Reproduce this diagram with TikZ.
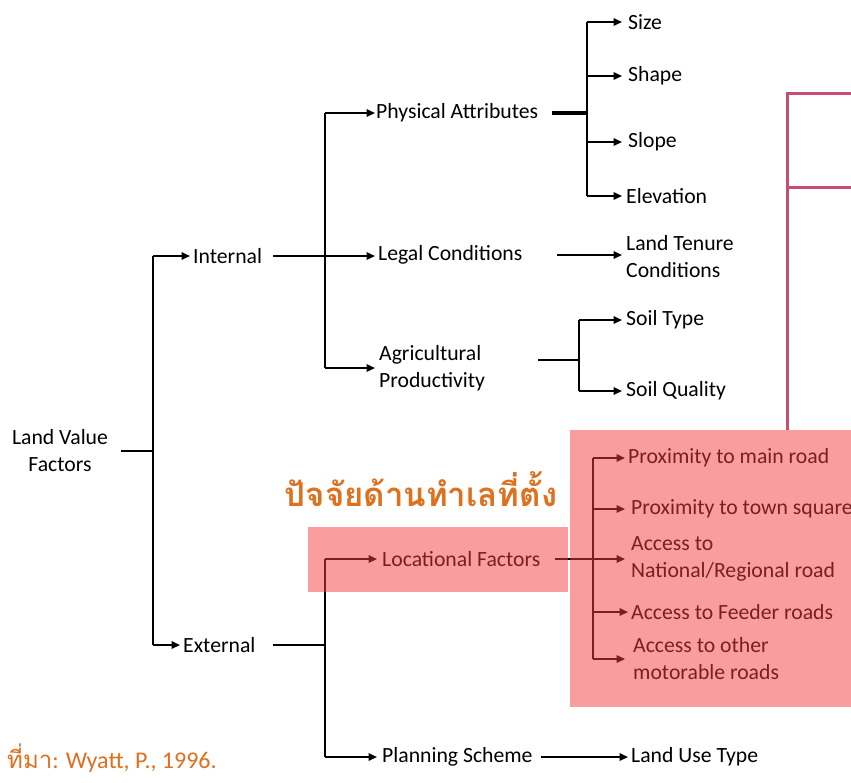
\documentclass[tikz,border=0pt]{standalone}
\usepackage{fontspec}
\setmainfont{Carlito}
\newfontfamily\thaifont[Script=Thai]{Loma}
\usetikzlibrary{arrows.meta}
\definecolor{boxred}{RGB}{244,60,62}
\definecolor{magline}{RGB}{198,78,118}
\definecolor{thaiorange}{RGB}{222,112,30}
\tikzset{
  lbl/.style={inner sep=0pt, anchor=west, font=\fontsize{21.7}{27}\selectfont, align=left},
  ln/.style={line width=2pt},
  arr/.style={line width=2pt, -{Triangle[length=8.5pt,width=7.5pt]}},
  thk/.style={line width=3.8pt},
  mag/.style={draw=magline, line width=3pt},
  overlay box/.style={fill=boxred, fill opacity=0.5, draw=none}
}
\begin{document}
\begin{tikzpicture}[x=1pt,y=-1pt]
\clip (0,0) rectangle (851,782);
\fill[white] (0,0) rectangle (851,782);
% magenta lines
\draw[mag] (851,93) -- (787,93) -- (787,430);
\draw[mag] (787,187) -- (851,187);
% junction coordinates
\coordinate (b0) at (153,0);
\coordinate (b1) at (325,0);
\coordinate (b2) at (587,0);
\coordinate (b3) at (579,0);
\coordinate (b4) at (325,0);
\coordinate (b5) at (593,0);
% nodes
\node[lbl, anchor=center, align=center] (lvf) at (60,451) {Land Value\\Factors};
\node[lbl] (int) at (193,256) {Internal};
\node[lbl] (ext) at (183,645) {External};
\node[lbl] (phys) at (376,113) {Physical Attributes};
\node[lbl] (legal) at (378,255) {Legal Conditions};
\node[lbl] (agri) at (379,368) {Agricultural\\Productivity};
\node[lbl] (size) at (628,22) {Size};
\node[lbl] (shape) at (628,76) {Shape};
\node[lbl] (slope) at (628,142) {Slope};
\node[lbl] (elev) at (626,196) {Elevation};
\node[lbl] (tenure) at (626,257) {Land Tenure\\Conditions};
\node[lbl] (soilt) at (626,320) {Soil Type};
\node[lbl] (soilq) at (626,391) {Soil Quality};
\node[lbl] (loc) at (382,559) {Locational Factors};
\node[lbl] (pm) at (628,458) {Proximity to main road};
\node[lbl] (pt) at (631,509) {Proximity to town square};
\node[lbl] (an) at (631,559) {Access to\\National/Regional road};
\node[lbl] (af) at (631,612) {Access to Feeder roads};
\node[lbl] (ao) at (633,659) {Access to other\\motorable roads};
\node[lbl] (plan) at (382,757) {Planning Scheme};
\node[lbl] (lu) at (631,757) {Land Use Type};
\node[inner sep=0pt, text=thaiorange, font=\thaifont\bfseries\fontsize{33}{40}\selectfont] (thai) at (421,489) {ปัจจัยด้านทำเลที่ตั้ง};
\node[inner sep=0pt, anchor=west, text=thaiorange, font=\fontsize{24}{28}\selectfont] (src) at (7,758) {{\thaifont ที่มา}: Wyatt, P., 1996.};
\coordinate (a0) at (538,360);
\coordinate (e0) at (273,645);
\coordinate (p0) at (552,113);
\coordinate (l0) at (557,255);
\coordinate (f0) at (555,559);
\coordinate (s0) at (541,757);
% level 1
\draw[ln] ([xshift=13pt]lvf.east) -- (b0 |- lvf.east);
\draw[ln] (b0 |- int.west) -- (b0 |- ext.west);
\draw[arr] (b0 |- int.west) -- ([xshift=-3pt]int.west);
\draw[arr] (b0 |- ext.west) -- ([xshift=-3pt]ext.west);
% internal
\draw[arr] ([xshift=11pt]int.east) -- ([xshift=-3pt]legal.west |- int.east);
\draw[ln] (b1 |- phys.west) -- (b1 |- agri.west);
\draw[arr] (b1 |- phys.west) -- ([xshift=-1pt]phys.west);
\draw[arr] (b1 |- agri.west) -- ([xshift=-4pt]agri.west);
% physical
\draw[thk] (p0) -- (b2 |- p0);
\draw[ln] (b2 |- size.west) -- (b2 |- elev.west);
\foreach \n in {size,shape,slope} \draw[arr] (b2 |- \n.west) -- ([xshift=-6pt]\n.west);
\draw[arr] (b2 |- elev.west) -- ([xshift=-4pt]elev.west);
% legal
\draw[arr] (l0) -- ([xshift=-4pt]tenure.west |- l0);
% agri
\draw[ln] (a0) -- (b3 |- a0);
\draw[ln] (b3 |- soilt.west) -- (b3 |- soilq.west);
\draw[arr] (b3 |- soilt.west) -- ([xshift=-4pt]soilt.west);
\draw[arr] (b3 |- soilq.west) -- ([xshift=-4pt]soilq.west);
% external
\draw[ln] (e0) -- (b4 |- e0);
\draw[ln] (b4 |- loc.west) -- (b4 |- plan.west);
\draw[arr] (b4 |- loc.west) -- ([xshift=-5pt]loc.west);
\draw[arr] (b4 |- plan.west) -- ([xshift=-5pt]plan.west);
% locational
\draw[ln] (f0) -- (b5 |- f0);
\draw[ln] (b5 |- pm.west) -- (b5 |- ao.west);
\draw[arr] (b5 |- pm.west) -- ([xshift=-3pt]pm.west);
\draw[arr] (b5 |- pt.west) -- ([xshift=-6pt]pt.west);
\draw[arr] (b5 |- an.west) -- ([xshift=-6pt]an.west);
\draw[arr] (b5 |- af.west) -- ([xshift=-3pt]af.west);
\draw[arr] (b5 |- ao.west) -- ([xshift=-8pt]ao.west);
% planning
\draw[arr] (s0) -- ([xshift=-3pt]lu.west);
% red overlays
\fill[overlay box] (570,430) rectangle (851,707);
\fill[overlay box] (308,527) rectangle (568,592);
\end{tikzpicture}
\end{document}
